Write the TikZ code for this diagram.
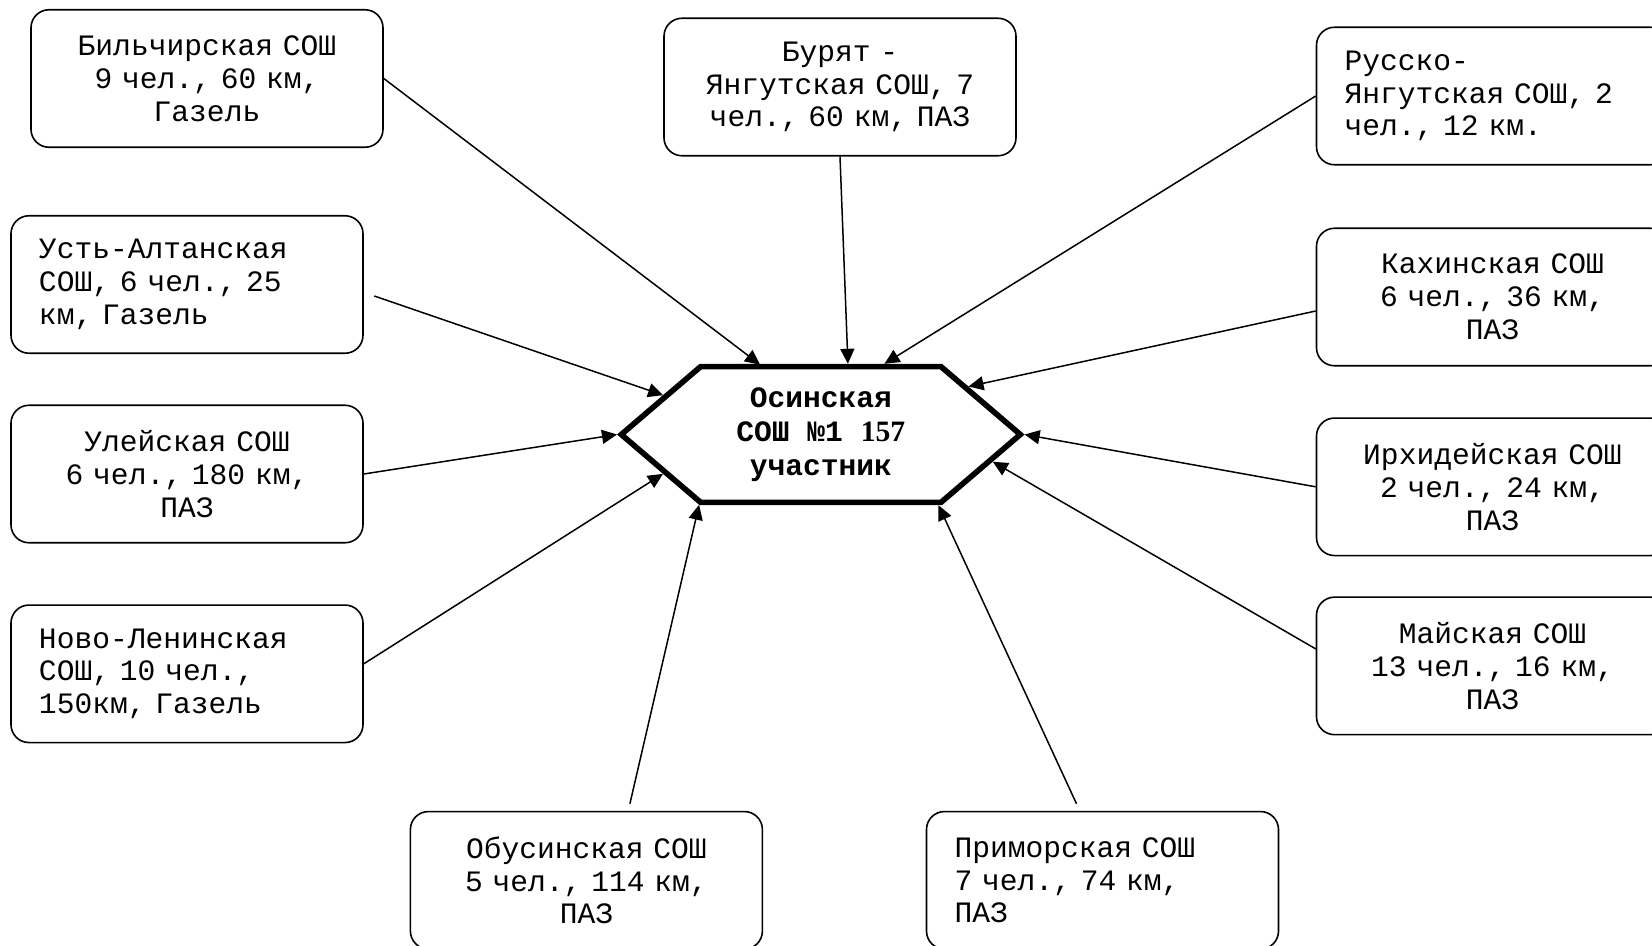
\documentclass[tikz,border=0pt]{standalone}
\usepackage{fontspec}
\setmainfont{Liberation Mono}
\newfontfamily\numfont{Liberation Serif}
\usetikzlibrary{shapes.symbols, arrows.meta, calc}
\tikzstyle{school} = [rectangle, rounded corners=9bp, minimum width=176bp, minimum height=68.75bp, text width=148bp, align=center, draw=black, line width=0.8bp, font=\fontsize{14.8bp}{16.4bp}\selectfont]
\tikzstyle{schoolleft} = [school, align=left]
\tikzstyle{centre} = [signal, signal to=east and west, signal pointer angle=81.1, minimum width=199.5bp, minimum height=67.9bp, inner sep=0pt, draw=black, line width=2.8bp, align=center, font=\fontsize{14.8bp}{17bp}\selectfont\bfseries]
\tikzstyle{arrow} = [line width=0.75bp, -{Triangle[length=7.5bp,width=7bp]}]

\begin{document}
\begin{tikzpicture}[x=0.5bp, y=-0.5bp]
\useasboundingbox (0,0) rectangle (1652,945);

% centre
\node (hex) [centre] at (820.8,434.5) {Осинская\\СОШ №1 {\numfont 157}\\участник};

% schools
\node (bil) [school] at (207,78.5) {Бильчирская СОШ\\9 чел., 60 км,\\Газель};
\node (bur) [school] at (840,87) {Бурят -\\Янгутская СОШ, 7\\чел., 60 км, ПАЗ};
\node (rus) [schoolleft] at (1492.5,96) {Русско-\\Янгутская СОШ, 2\\чел., 12 км.};
\node (ust) [schoolleft] at (187,284.5) {Усть-Алтанская\\СОШ, 6 чел., 25\\км, Газель};
\node (ule) [school] at (187,474) {Улейская СОШ\\6 чел., 180 км,\\ПАЗ};
\node (nov) [schoolleft] at (187,673.8) {Ново-Ленинская\\СОШ, 10 чел.,\\150км, Газель};
\node (kah) [school] at (1492.5,297) {Кахинская СОШ\\6 чел., 36 км,\\ПАЗ};
\node (irh) [school] at (1492.5,486.8) {Ирхидейская СОШ\\2 чел., 24 км,\\ПАЗ};
\node (mai) [school] at (1492.5,665.9) {Майская СОШ\\13 чел., 16 км,\\ПАЗ};
\node (obu) [school] at (586.4,880.3) {Обусинская СОШ\\5 чел., 114 км,\\ПАЗ};
\node (pri) [schoolleft] at (1102.5,880.3) {Приморская СОШ\\7 чел., 74 км,\\ПАЗ};

\draw [arrow] (bil.east) -- (hex.131);
\draw [arrow] (bur.south) -- (hex.69);
\draw [arrow] (rus.west) -- (hex.48);
\draw [arrow] ($(ust.east)+(10.5,11.5)$) -- (hex.166);
\draw [arrow] (ule.east) -- (hex.180);
\draw [arrow] ($(nov.east)+(0,-10)$) -- (hex.194);
\draw [arrow] ($(obu.north)+(43.5,-7)$) -- (hex.210);
\draw [arrow] ($(pri.north)+(-26,-7)$) -- (hex.329);
\draw [arrow] ($(kah.west)+(0,14)$) -- (hex.18);
\draw [arrow] (irh.west) -- (hex.0);
\draw [arrow] ($(mai.west)+(0,-17)$) -- (hex.351);

\end{tikzpicture}
\end{document}
